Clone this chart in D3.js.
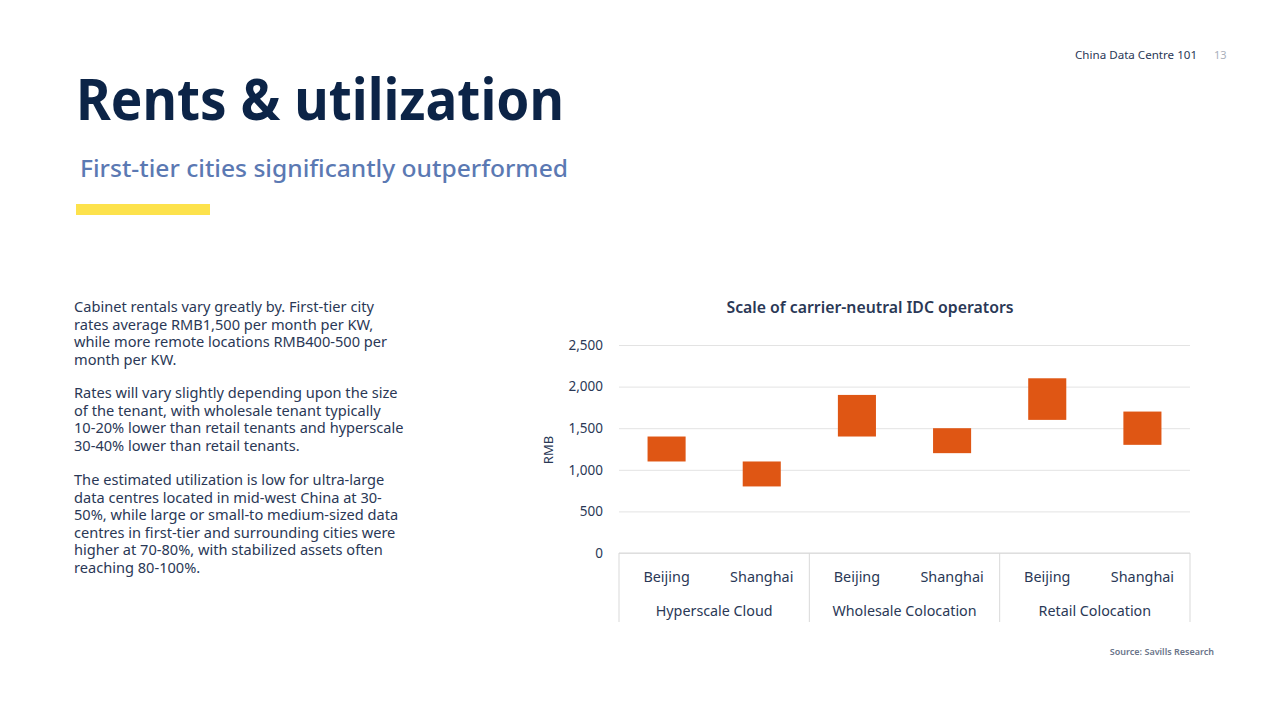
<!DOCTYPE html>
<html><head><meta charset="utf-8">
<script src="https://cdn.jsdelivr.net/npm/d3@7"></script>
<style>
body{margin:0;background:#fff;}
svg text{font-family:"Noto Sans","Open Sans",sans-serif;}
</style></head>
<body>
<svg id="c" width="1280" height="720"></svg>
<script>
const groups = ["Hyperscale Cloud","Wholesale Colocation","Retail Colocation"];
const cities = ["Beijing","Shanghai"];
const lowValues  = [1100, 800, 1400, 1200, 1600, 1300];
const highValues = [1400, 1100, 1900, 1500, 2100, 1700];
const yTicks = [0,500,1000,1500,2000,2500];

const paragraphs = [
 ["Cabinet rentals vary greatly by. First-tier city","rates average RMB1,500 per month per KW,","while more remote locations RMB400-500 per","month per KW."],
 ["Rates will vary slightly depending upon the size","of the tenant, with wholesale tenant typically","10-20% lower than retail tenants and hyperscale","30-40% lower than retail tenants."],
 ["The estimated utilization is low for ultra-large","data centres located in mid-west China at 30-","50%, while large or small-to medium-sized data","centres in first-tier and surrounding cities were","higher at 70-80%, with stabilized assets often","reaching 80-100%."]
];

const svg = d3.select("#c");
const navy = "#0c2447", textC = "#2a3856";

// header
svg.append("text").attr("x",1075).attr("y",59).attr("font-size",11.6).attr("fill",textC).text("China Data Centre 101");
svg.append("text").attr("x",1214).attr("y",59).attr("font-size",11).attr("fill","#aab0bb").text("13");
svg.append("text").attr("x",76).attr("y",120).attr("font-size",57).attr("font-weight",700).attr("fill",navy)
  .attr("textLength",488).attr("lengthAdjust","spacingAndGlyphs").text("Rents & utilization");
svg.append("text").attr("x",80).attr("y",177).attr("font-size",23).attr("font-weight",500).attr("fill","#5b79b3")
  .attr("textLength",488).attr("lengthAdjust","spacingAndGlyphs").text("First-tier cities significantly outperformed");
svg.append("rect").attr("x",76).attr("y",204).attr("width",134).attr("height",11).attr("fill","#fde24c");

// body text
const starts=[312,398,485];
paragraphs.forEach((p,i)=>{
  p.forEach((line,j)=>{
    svg.append("text").attr("x",74).attr("y",starts[i]+j*17.5).attr("font-size",14.6).attr("fill",textC).text(line);
  });
});

// chart
const x0=619, x1=1190, yBase=553, yTop=345;
const cats = d3.range(6);
const x = d3.scaleBand().domain(cats).range([x0,x1]).paddingInner(0).paddingOuter(0);
const y = d3.scaleLinear().domain([0,2500]).range([yBase,yTop]);

svg.append("text").attr("x",870).attr("y",313).attr("text-anchor","middle").attr("font-size",15.8).attr("font-weight",600)
  .attr("fill",textC).text("Scale of carrier-neutral IDC operators");

const yAxis = svg.append("g").attr("transform",`translate(${x0},0)`)
  .call(d3.axisLeft(y).tickValues(yTicks).tickSize(-(x1-x0)).tickFormat(d3.format(",")));
yAxis.select(".domain").remove();
yAxis.selectAll(".tick line").attr("stroke","#e3e3e3");
yAxis.selectAll(".tick text").attr("x",-16).attr("font-size",13.5).attr("fill",textC).attr("font-family","Noto Sans");

svg.append("text").attr("transform","translate(553,450) rotate(-90)").attr("text-anchor","middle")
  .attr("font-size",13).attr("fill",textC).text("RMB");

// bars
svg.append("g").selectAll("rect").data(cats).join("rect")
  .attr("x",d=>x(d)+x.bandwidth()*0.3).attr("width",x.bandwidth()*0.4)
  .attr("y",d=>y(highValues[d])).attr("height",d=>y(lowValues[d])-y(highValues[d]))
  .attr("fill","#df5614");

// base line and dividers
svg.append("line").attr("x1",x0).attr("x2",x1).attr("y1",yBase).attr("y2",yBase).attr("stroke","#d9d9d9");
[0,2,4,6].forEach(i=>{
  const xx = i<6 ? x(i) : x1;
  svg.append("line").attr("x1",xx).attr("x2",xx).attr("y1",yBase).attr("y2",622).attr("stroke","#d9d9d9");
});
// city labels
svg.append("g").selectAll("text").data(cats).join("text")
  .attr("x",d=>x(d)+x.bandwidth()/2).attr("y",582).attr("text-anchor","middle")
  .attr("font-size",14.4).attr("fill",textC).text(d=>cities[d%2]);
// group labels
svg.append("g").selectAll("text").data(groups).join("text")
  .attr("x",(d,i)=>x(i*2)+x.bandwidth()).attr("y",616).attr("text-anchor","middle")
  .attr("font-size",14.3).attr("fill",textC).text(d=>d);

svg.append("text").attr("x",1214).attr("y",655).attr("text-anchor","end").attr("font-size",9).attr("font-weight",600)
  .attr("fill","#6a7489").text("Source: Savills Research");
</script>
</body></html>
